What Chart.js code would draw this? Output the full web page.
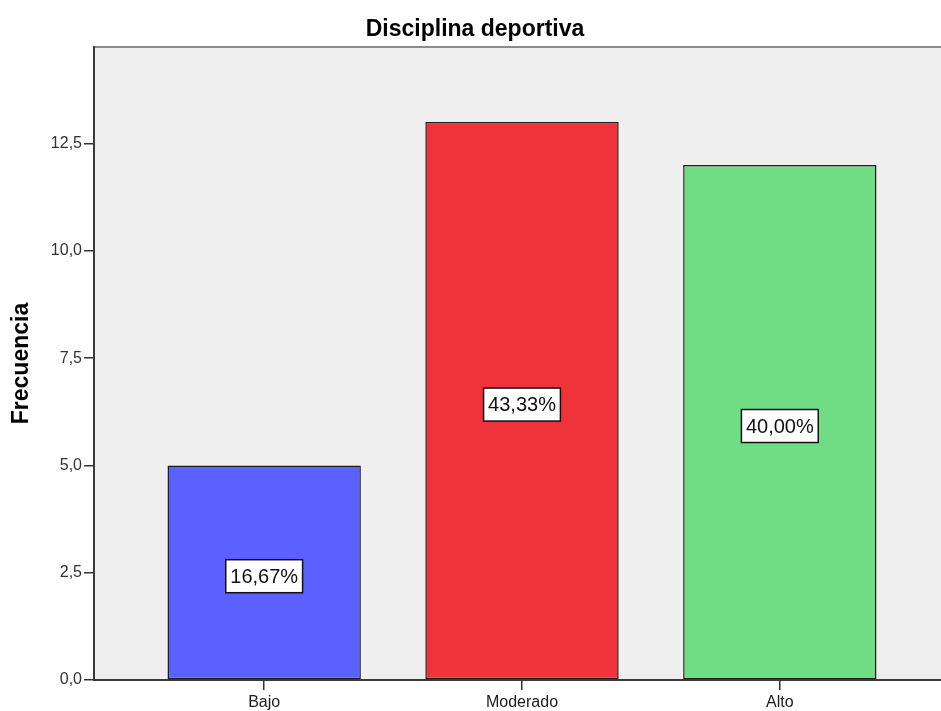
<!DOCTYPE html>
<html lang="es">
<head>
<meta charset="utf-8">
<title>Disciplina deportiva</title>
<script src="https://cdn.jsdelivr.net/npm/chart.js@4/dist/chart.umd.min.js"></script>
<style>
  html, body { margin: 0; padding: 0; background: #ffffff; overflow: hidden; }
  #wrap { width: 950px; height: 711px; position: relative; }
</style>
</head>
<body>
<div id="wrap"><canvas id="grafico"></canvas></div>
<script>
// Categorías y frecuencias de la variable
const categorias = ['Bajo', 'Moderado', 'Alto'];
const frecuencias = [5, 13, 12];
const coloresBarras = ['#5b60ff', '#f0323a', '#70dd85'];

// Marcas del eje de frecuencia
const valoresEjeY = [0, 2.5, 5, 7.5, 10, 12.5];
const etiquetasEjeY = ['0,0', '2,5', '5,0', '7,5', '10,0', '12,5'];

const total = frecuencias.reduce((a, b) => a + b, 0);
const porcentajes = frecuencias.map(v => (v / total * 100).toFixed(2).replace('.', ',') + '%');

const FUENTE = '"Liberation Sans", Arial, Helvetica, sans-serif';

// Fondo gris del área de trazado y borde superior
const fondoArea = {
  id: 'fondoArea',
  beforeDraw(chart) {
    const { ctx, chartArea: a } = chart;
    ctx.save();
    ctx.fillStyle = '#efefef';
    ctx.fillRect(a.left, a.top, a.right - a.left, a.bottom - a.top);
    ctx.strokeStyle = '#8c8c8c';
    ctx.lineWidth = 2;
    ctx.beginPath();
    ctx.moveTo(a.left, a.top);
    ctx.lineTo(a.right, a.top);
    ctx.stroke();
    ctx.restore();
  }
};

// Etiquetas de porcentaje en recuadro blanco, centradas en cada barra
const etiquetasPorcentaje = {
  id: 'etiquetasPorcentaje',
  afterDatasetsDraw(chart) {
    const { ctx } = chart;
    const meta = chart.getDatasetMeta(0);
    const escalaY = chart.scales.y;
    ctx.save();
    ctx.font = '20px ' + FUENTE;
    ctx.textAlign = 'center';
    ctx.textBaseline = 'middle';
    meta.data.forEach((barra, i) => {
      const texto = porcentajes[i];
      const cx = barra.x;
      const cy = escalaY.getPixelForValue(frecuencias[i] / 2) + 3.5;
      const ancho = ctx.measureText(texto).width + 9;
      const alto = 33;
      ctx.fillStyle = '#ffffff';
      ctx.fillRect(cx - ancho / 2, cy - alto / 2, ancho, alto);
      ctx.strokeStyle = '#111111';
      ctx.lineWidth = 1.5;
      ctx.strokeRect(cx - ancho / 2, cy - alto / 2, ancho, alto);
      ctx.fillStyle = '#111111';
      ctx.fillText(texto, cx, cy + 1);
    });
    ctx.restore();
  }
};

new Chart(document.getElementById('grafico'), {
  type: 'bar',
  data: {
    datasets: [{
      label: 'Frecuencia',
      data: categorias.map((c, i) => ({ x: i, y: frecuencias[i] })),
      backgroundColor: coloresBarras,
      borderColor: '#1e1e1e',
      borderWidth: 1.5,
      borderSkipped: false,
      barPercentage: 0.75,
      categoryPercentage: 1
    }]
  },
  options: {
    responsive: true,
    maintainAspectRatio: false,
    animation: false,
    devicePixelRatio: 1,
    layout: { padding: { left: 0, right: 0, top: 0, bottom: 0 } },
    plugins: {
      legend: { display: false },
      tooltip: { enabled: false },
      title: {
        display: true,
        text: 'Disciplina deportiva',
        color: '#000000',
        font: { family: FUENTE, size: 23, weight: 'bold' },
        padding: { top: 16, bottom: 3.4 }
      }
    },
    scales: {
      x: {
        type: 'linear',
        min: -0.66,
        max: 2.66,
        offset: false,
        grid: { offset: false, drawOnChartArea: false, drawTicks: true, tickLength: 10, color: '#333333', lineWidth: 1.5 },
        border: { display: true, color: '#3a3a3a', width: 2 },
        afterBuildTicks(scale) { scale.ticks = categorias.map((c, i) => ({ value: i })); },
        afterFit(scale) { scale.height = 31; },
        ticks: {
          autoSkip: false,
          maxRotation: 0,
          padding: 3,
          color: '#1a1a1a',
          font: { family: FUENTE, size: 16 },
          callback: (v) => categorias[v]
        }
      },
      y: {
        min: 0,
        max: 14.75,
        grid: { drawOnChartArea: false, drawTicks: true, tickLength: 10, color: '#333333', lineWidth: 1.5 },
        border: { display: true, color: '#3a3a3a', width: 2 },
        afterBuildTicks(scale) { scale.ticks = valoresEjeY.map(v => ({ value: v })); },
        afterFit(scale) { scale.width = 94; },
        ticks: {
          padding: 2,
          color: '#333333',
          font: { family: FUENTE, size: 16 },
          callback: (v) => etiquetasEjeY[valoresEjeY.indexOf(v)]
        },
        title: {
          display: true,
          text: 'Frecuencia',
          color: '#000000',
          font: { family: FUENTE, size: 23, weight: 'bold' },
          padding: { top: 8, bottom: 0 }
        }
      }
    }
  },
  plugins: [fondoArea, etiquetasPorcentaje]
});
</script>
</body>
</html>
